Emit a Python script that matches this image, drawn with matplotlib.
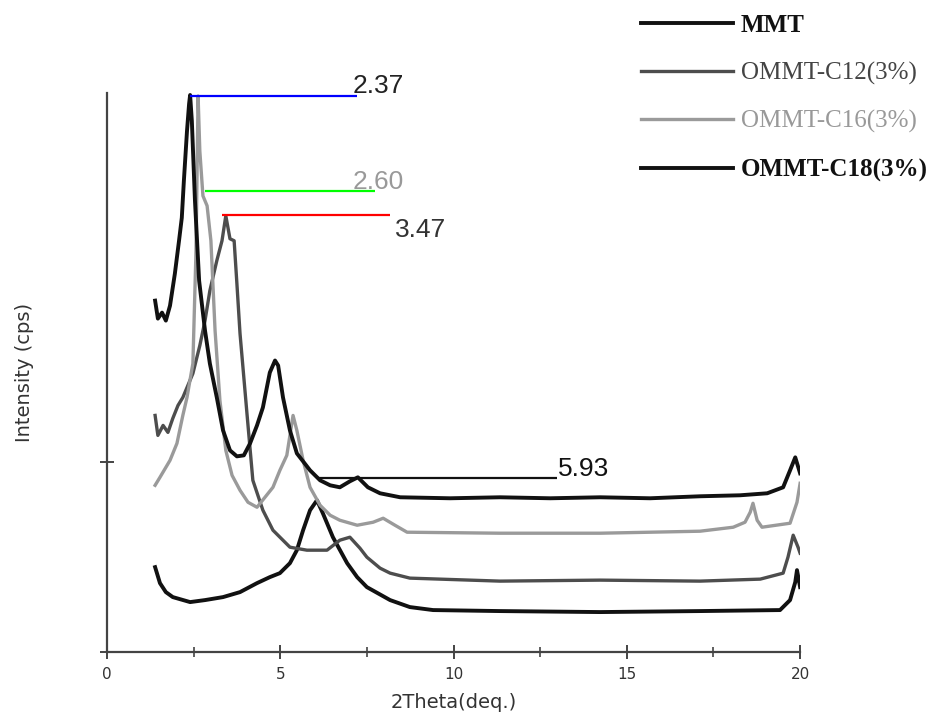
import numpy as np
import matplotlib
matplotlib.use('Agg')
import matplotlib.pyplot as plt

# XRD patterns (2theta in deg, intensity in arbitrary units)
mmt_x = [1.39, 1.53, 1.70, 1.90, 2.40, 2.83, 3.35, 3.84, 4.33, 4.70, 4.99, 5.28,
         5.48, 5.66, 5.86, 6.06, 6.23, 6.52, 6.93, 7.22, 7.50, 8.17, 8.74, 9.41,
         11.34, 14.23, 17.11, 19.42, 19.71, 19.86, 19.91, 20.0]
mmt_y = [85, 69, 60, 55, 50, 52, 55, 60, 69, 75, 79, 89,
         102, 122, 142, 152, 139, 115, 89, 75, 65, 52, 45, 42,
         41, 40, 41, 42, 52, 70, 82, 65]

c12_x = [1.39, 1.47, 1.62, 1.76, 1.90, 2.05, 2.19, 2.48, 2.68, 2.83, 2.97, 3.17,
         3.32, 3.43, 3.55, 3.67, 3.75, 3.84, 4.04, 4.21, 4.50, 4.79, 5.28, 5.77,
         6.35, 6.72, 7.01, 7.30, 7.50, 7.88, 8.17, 8.74, 11.34, 14.23, 17.11,
         18.85, 19.51, 19.65, 19.80, 19.94, 20.0]
c12_y = [237, 217, 227, 220, 234, 247, 255, 279, 307, 332, 362, 392,
         412, 437, 414, 412, 369, 319, 239, 172, 142, 122, 105, 102,
         102, 112, 115, 104, 95, 84, 79, 74, 71, 72, 71,
         73, 79, 95, 117, 105, 99]

c16_x = [1.39, 1.53, 1.82, 2.02, 2.19, 2.31, 2.48, 2.57, 2.63, 2.68, 2.77, 2.89,
         3.00, 3.12, 3.26, 3.43, 3.61, 3.84, 4.07, 4.33, 4.56, 4.79, 4.99, 5.19,
         5.37, 5.48, 5.66, 5.86, 6.15, 6.44, 6.72, 7.22, 7.68, 7.97, 8.31, 8.66,
         11.34, 14.23, 17.11, 18.07, 18.41, 18.56, 18.64, 18.76, 18.90, 19.71,
         19.91, 20.0]
c16_y = [167, 175, 192, 209, 237, 255, 289, 402, 557, 502, 457, 447,
         412, 322, 252, 202, 177, 162, 150, 145, 155, 165, 182, 197,
         237, 222, 192, 165, 147, 137, 132, 127, 130, 134, 127, 120,
         119, 119, 121, 125, 130, 140, 149, 132, 125, 129,
         150, 169]

c18_x = [1.39, 1.47, 1.59, 1.70, 1.82, 1.96, 2.08, 2.16, 2.22, 2.31, 2.37, 2.40,
         2.45, 2.54, 2.66, 2.83, 2.97, 3.17, 3.35, 3.55, 3.75, 3.95, 4.13, 4.33,
         4.50, 4.70, 4.85, 4.94, 5.08, 5.28, 5.48, 5.86, 6.15, 6.44, 6.72, 7.01,
         7.24, 7.53, 7.88, 8.46, 9.90, 11.34, 12.79, 14.23, 15.67, 17.11, 18.27,
         19.05, 19.51, 19.71, 19.86, 20.0]
c18_y = [352, 334, 340, 332, 347, 379, 412, 435, 472, 522, 549, 558,
         532, 452, 372, 322, 289, 255, 222, 202, 196, 197, 209, 227,
         245, 280, 292, 287, 255, 222, 199, 182, 172, 167, 165, 171,
         175, 165, 159, 155, 154, 155, 154, 155, 154, 156, 157,
         159, 165, 182, 195, 179]

labels = ['MMT', 'OMMT-C12(3%)', 'OMMT-C16(3%)', 'OMMT-C18(3%)']

# peak markers: label, level, start, end
peak_text = ['2.37', '2.60', '3.47', '5.93']
peak_level = [557, 462, 438, 174]
peak_start = [2.40, 2.83, 3.32, 6.09]
peak_end = [7.22, 7.73, 8.17, 12.99]

fig = plt.figure(figsize=(9.38, 7.25), dpi=100)
ax = fig.add_axes([0.114, 0.1007, 0.739, 0.771])

ln_mmt, = ax.plot(mmt_x, mmt_y, color='#111111', lw=2.8)
ln_c12, = ax.plot(c12_x, c12_y, color='#4d4d4d', lw=2.4)
ln_c16, = ax.plot(c16_x, c16_y, color='#9a9a9a', lw=2.4)
ln_c18, = ax.plot(c18_x, c18_y, color='#111111', lw=2.8)

line_cols = ['#0000ff', '#00ff00', '#ff0000', '#111111']
text_cols = ['#222222', '#999999', '#333333', '#111111']
for i in range(4):
    ax.hlines(peak_level[i], peak_start[i], peak_end[i], color=line_cols[i], lw=1.6)

ax.text(7.10, 560, peak_text[0], color=text_cols[0], fontsize=19,
        family='Liberation Sans', va='baseline', clip_on=False)
ax.text(7.10, 464, peak_text[1], color=text_cols[1], fontsize=19,
        family='Liberation Sans', va='baseline')
ax.text(8.31, 416, peak_text[2], color=text_cols[2], fontsize=19,
        family='Liberation Sans', va='baseline')
ax.text(13.02, 176, peak_text[3], color=text_cols[3], fontsize=19,
        family='Liberation Sans', va='baseline')

ax.set_xlim(0, 20)
ax.set_ylim(0, 560)
ax.set_xticks([0, 5, 10, 15, 20])
ax.set_xticks([2.5, 7.5, 12.5, 17.5], minor=True)
ax.set_yticks([0, 190])
ax.set_yticklabels([])
for s in ['top', 'right']:
    ax.spines[s].set_visible(False)
for s in ['left', 'bottom']:
    ax.spines[s].set_color('#444444')
    ax.spines[s].set_linewidth(1.6)
ax.tick_params(axis='x', which='major', direction='inout', length=10, width=1.4,
               color='#444444', labelsize=11, labelcolor='#333333', pad=6)
ax.tick_params(axis='x', which='minor', direction='inout', length=7, width=1.2,
               color='#444444')
ax.tick_params(axis='y', direction='inout', length=10, width=1.4, color='#444444')
ax.set_xlabel('2Theta(deq.)', fontsize=14, color='#333333', labelpad=8)
ax.set_ylabel('Intensity (cps)', fontsize=14, color='#333333', labelpad=44)

leg = ax.legend([ln_mmt, ln_c12, ln_c16, ln_c18], labels,
                loc='upper left', bbox_to_anchor=(0.662, 1.008),
                bbox_transform=fig.transFigure, frameon=False,
                prop={'family': 'Liberation Serif', 'size': 18},
                handlelength=3.7, handletextpad=0.3, labelspacing=1.0,
                borderpad=0.3)
leg_cols = ['#111111', '#444444', '#999999', '#111111']
leg_wt = ['bold', 'normal', 'normal', 'bold']
for t, c, w in zip(leg.get_texts(), leg_cols, leg_wt):
    t.set_color(c)
    t.set_fontweight(w)

fig.savefig('out.png', dpi=100)
